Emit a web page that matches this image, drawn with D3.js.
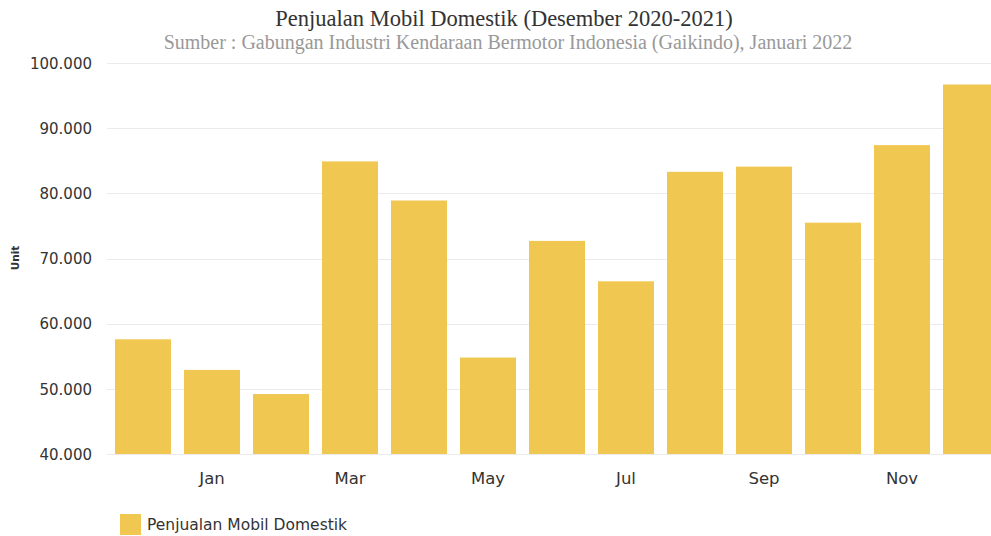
<!DOCTYPE html>
<html>
<head>
<meta charset="utf-8">
<script src="https://cdn.jsdelivr.net/npm/d3@7"></script>
<style>
  html, body { margin: 0; padding: 0; background: #ffffff; overflow: hidden; }
  svg { display: block; }
</style>
</head>
<body>
<svg id="chart" width="991" height="536"></svg>
<script>
// Monthly domestic car sales, Dec 2020 – Dec 2021 (units)
const months = ["Dec", "Jan", "Feb", "Mar", "Apr", "May", "Jun", "Jul", "Aug", "Sep", "Oct", "Nov", "Dec "];
const sales = [57600, 52900, 49200, 84900, 78900, 54800, 72700, 66500, 83300, 84100, 75500, 87400, 96700];
const shownMonths = ["Jan", "Mar", "May", "Jul", "Sep", "Nov"];
const yTicks = [40000, 50000, 60000, 70000, 80000, 90000, 100000];

const titleText = "Penjualan Mobil Domestik (Desember 2020-2021)";
const subtitleText = "Sumber : Gabungan Industri Kendaraan Bermotor Indonesia (Gaikindo), Januari 2022";
const seriesName = "Penjualan Mobil Domestik";
const yAxisTitle = "Unit";

const barColor = "#f0c751";
const svg = d3.select("#chart");

const plotLeft = 107, plotTop = 63, plotBottom = 454;
const step = 69;

const x = d3.scaleBand()
  .domain(months)
  .range([plotLeft + 1.5, plotLeft + 1.5 + step * months.length])
  .paddingInner(13 / 69)
  .paddingOuter(13 / 69 / 2);

const y = d3.scaleLinear()
  .domain([40000, 100000])
  .range([plotBottom, plotTop]);

const fmt = v => d3.format(",")(v).replace(/,/g, ".");

// Gridlines
svg.append("g")
  .selectAll("line")
  .data(yTicks)
  .join("line")
  .attr("x1", plotLeft)
  .attr("x2", 991)
  .attr("y1", d => Math.round(y(d)) + 0.5)
  .attr("y2", d => Math.round(y(d)) + 0.5)
  .attr("stroke", "#ebebeb")
  .attr("stroke-width", 1);

// Y axis labels
const yAxis = d3.axisLeft(y).tickValues(yTicks).tickFormat(fmt).tickSize(0).tickPadding(0);
const gy = svg.append("g").attr("transform", `translate(92,0)`).call(yAxis);
gy.select(".domain").remove();
gy.selectAll("text")
  .attr("font-family", "'DejaVu Sans', Verdana, sans-serif")
  .attr("font-size", 15)
  .attr("fill", "#333333")
  .attr("dy", "0.35em");

// Bars
svg.append("g")
  .selectAll("rect")
  .data(sales)
  .join("rect")
  .attr("x", (d, i) => x(months[i]))
  .attr("width", x.bandwidth())
  .attr("y", d => y(d))
  .attr("height", d => y(40000) - y(d))
  .attr("fill", barColor);

// X axis labels (every other month)
const xAxis = d3.axisBottom(x).tickValues(shownMonths).tickSize(0).tickPadding(0);
const gx = svg.append("g").attr("transform", `translate(0,${plotBottom})`).call(xAxis);
gx.select(".domain").remove();
gx.selectAll("text")
  .attr("font-family", "'DejaVu Sans', Verdana, sans-serif")
  .attr("font-size", 16.5)
  .attr("fill", "#333333")
  .attr("y", 30)
  .attr("dy", 0);

// Y axis title
svg.append("text")
  .attr("transform", "translate(19,258) rotate(-90)")
  .attr("text-anchor", "middle")
  .attr("font-family", "'DejaVu Sans', Verdana, sans-serif")
  .attr("font-size", 10.5)
  .attr("font-weight", "bold")
  .attr("fill", "#333333")
  .text(yAxisTitle);

// Title and subtitle
svg.append("text")
  .attr("x", 504)
  .attr("y", 26)
  .attr("text-anchor", "middle")
  .attr("font-family", "'Liberation Serif', 'Times New Roman', serif")
  .attr("font-size", 22.5)
  .attr("fill", "#333333")
  .text(titleText);

svg.append("text")
  .attr("x", 508)
  .attr("y", 49)
  .attr("text-anchor", "middle")
  .attr("font-family", "'Liberation Serif', 'Times New Roman', serif")
  .attr("font-size", 20)
  .attr("fill", "#999999")
  .text(subtitleText);

// Legend
const legend = svg.append("g").attr("transform", "translate(120,514)");
legend.append("rect")
  .attr("width", 21)
  .attr("height", 21)
  .attr("fill", barColor);
legend.append("text")
  .attr("x", 27)
  .attr("y", 16)
  .attr("font-family", "'DejaVu Sans', Verdana, sans-serif")
  .attr("font-size", 15.5)
  .attr("fill", "#333333")
  .text(seriesName);
</script>
</body>
</html>
